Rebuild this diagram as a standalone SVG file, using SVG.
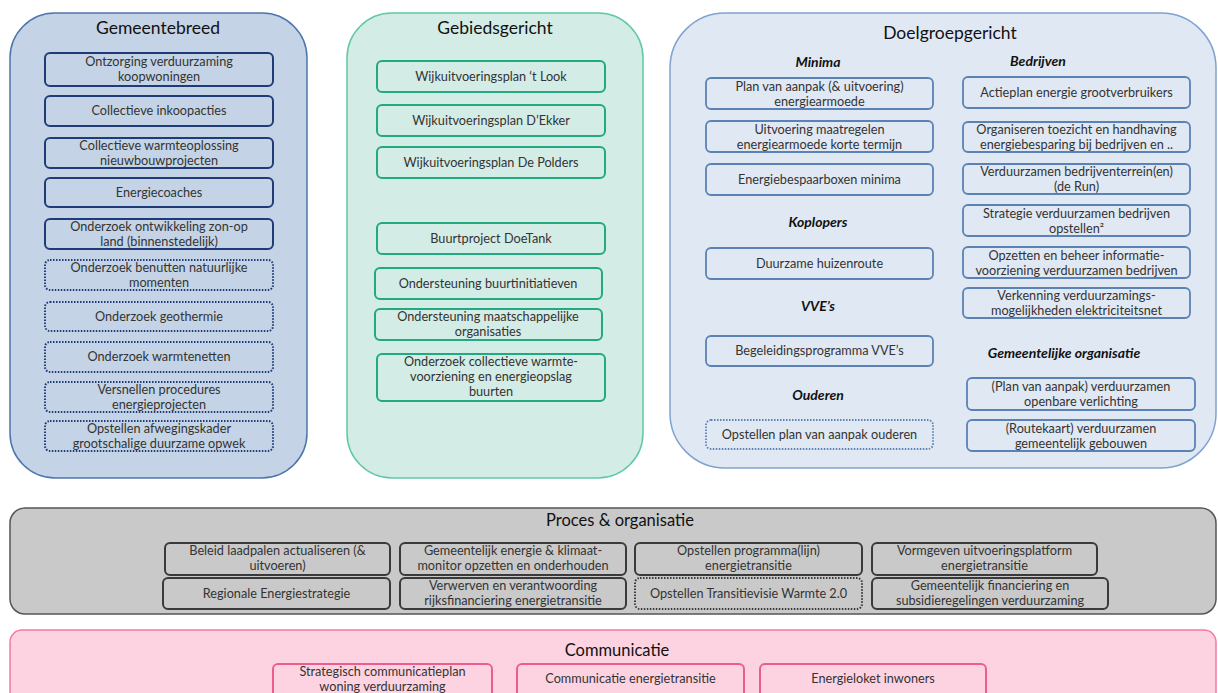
<svg xmlns="http://www.w3.org/2000/svg" width="1218" height="693" viewBox="0 0 1218 693">
<style>
text{font-family:Lato,"Open Sans","Liberation Sans",sans-serif;fill:#333;text-anchor:middle}
.t{font-size:12.7px}
.h{font-size:17.5px;fill:#111}
.s{font-size:14px;font-weight:bold;font-style:italic;fill:#111}
.pg{fill:#c4d3e5;stroke:#4d75ad;stroke-width:1.5}
.pb{fill:#d3ece5;stroke:#60c8a8;stroke-width:1.5}
.pd{fill:#e0e8f3;stroke:#7fa3cf;stroke-width:1.5}
.pp{fill:#c9c9c9;stroke:#555;stroke-width:1.5}
.pc{fill:#fdd3e2;stroke:#f47aa2;stroke-width:1.5}
.bg{fill:none;stroke:#1f3c78;stroke-width:2}
.bgd{fill:none;stroke:#1f3c78;stroke-width:2;stroke-dasharray:1.5 1.5}
.bb{fill:none;stroke:#22a981;stroke-width:2}
.bd{fill:none;stroke:#5a82b4;stroke-width:1.8}
.bdd{fill:none;stroke:#5a82b4;stroke-width:1.8;stroke-dasharray:1.5 1.5}
.bp{fill:none;stroke:#3a3a3a;stroke-width:2}
.bpd{fill:none;stroke:#3a3a3a;stroke-width:2;stroke-dasharray:1.5 1.5}
.bc{fill:none;stroke:#eb5d8e;stroke-width:2}
</style>
<rect width="1218" height="693" fill="#fff"/>

<g id="gemeentebreed">
<rect class="pg" x="10" y="13" width="297" height="465" rx="45"/>
<text class="h" x="158" y="34">Gemeentebreed</text>
<rect class="bg" x="45" y="53" width="228" height="33" rx="5"/>
<text class="t" x="159" y="66">Ontzorging verduurzaming</text><text class="t" x="159" y="81">koopwoningen</text>
<rect class="bg" x="45" y="96" width="228" height="30" rx="5"/>
<text class="t" x="159" y="115">Collectieve inkoopacties</text>
<rect class="bg" x="45" y="138" width="228" height="30" rx="5"/>
<text class="t" x="159" y="150">Collectieve warmteoplossing</text><text class="t" x="159" y="165">nieuwbouwprojecten</text>
<rect class="bg" x="45" y="178" width="228" height="29" rx="5"/>
<text class="t" x="159" y="197">Energiecoaches</text>
<rect class="bg" x="45" y="219" width="228" height="30" rx="5"/>
<text class="t" x="159" y="231">Onderzoek ontwikkeling zon-op</text><text class="t" x="159" y="246">land (binnenstedelijk)</text>
<rect class="bgd" x="45" y="260" width="228" height="30" rx="5"/>
<text class="t" x="159" y="272">Onderzoek benutten natuurlijke</text><text class="t" x="159" y="287">momenten</text>
<rect class="bgd" x="45" y="302" width="228" height="29" rx="5"/>
<text class="t" x="159" y="321">Onderzoek geothermie</text>
<rect class="bgd" x="45" y="342" width="228" height="30" rx="5"/>
<text class="t" x="159" y="361">Onderzoek warmtenetten</text>
<rect class="bgd" x="45" y="382" width="228" height="30" rx="5"/>
<text class="t" x="159" y="394">Versnellen procedures</text><text class="t" x="159" y="409">energieprojecten</text>
<rect class="bgd" x="45" y="421" width="228" height="30" rx="5"/>
<text class="t" x="159" y="433">Opstellen afwegingskader</text><text class="t" x="159" y="448">grootschalige duurzame opwek</text>
</g>

<g id="gebiedsgericht">
<rect class="pb" x="347" y="13" width="296" height="465" rx="45"/>
<text class="h" x="495" y="34">Gebiedsgericht</text>
<rect class="bb" x="377" y="61" width="228" height="31" rx="5"/>
<text class="t" x="491" y="81">Wijkuitvoeringsplan ‘t Look</text>
<rect class="bb" x="377" y="105" width="228" height="31" rx="5"/>
<text class="t" x="491" y="125">Wijkuitvoeringsplan D’Ekker</text>
<rect class="bb" x="377" y="147" width="228" height="31" rx="5"/>
<text class="t" x="491" y="167">Wijkuitvoeringsplan De Polders</text>
<rect class="bb" x="377" y="223" width="228" height="31" rx="5"/>
<text class="t" x="491" y="243">Buurtproject DoeTank</text>
<rect class="bb" x="375" y="268" width="227" height="31" rx="5"/>
<text class="t" x="488" y="288">Ondersteuning buurtinitiatieven</text>
<rect class="bb" x="375" y="309" width="227" height="31" rx="5"/>
<text class="t" x="488" y="321">Ondersteuning maatschappelijke</text><text class="t" x="488" y="336">organisaties</text>
<rect class="bb" x="377" y="354" width="228" height="47" rx="5"/>
<text class="t" x="491" y="366">Onderzoek collectieve warmte-</text><text class="t" x="491" y="381">voorziening en energieopslag</text><text class="t" x="491" y="396">buurten</text>
</g>

<g id="doelgroepgericht">
<rect class="pd" x="670" y="13" width="546" height="455" rx="55"/>
<text class="h" x="950" y="39">Doelgroepgericht</text>
<text class="s" x="818" y="67">Minima</text>
<text class="s" x="818" y="227">Koplopers</text>
<text class="s" x="818" y="311">VVE’s</text>
<text class="s" x="818" y="400">Ouderen</text>
<text class="s" x="1038" y="66">Bedrijven</text>
<text class="s" x="1064" y="358">Gemeentelijke organisatie</text>
<rect class="bd" x="706" y="78" width="227" height="31" rx="5"/>
<text class="t" x="819.5" y="90.5">Plan van aanpak (&amp; uitvoering)</text><text class="t" x="819.5" y="105.5">energiearmoede</text>
<rect class="bd" x="706" y="121" width="227" height="31" rx="5"/>
<text class="t" x="819.5" y="133.5">Uitvoering maatregelen</text><text class="t" x="819.5" y="148.5">energiearmoede korte termijn</text>
<rect class="bd" x="706" y="164" width="227" height="31" rx="5"/>
<text class="t" x="819.5" y="184">Energiebespaarboxen minima</text>
<rect class="bd" x="706" y="248" width="227" height="31" rx="5"/>
<text class="t" x="819.5" y="268">Duurzame huizenroute</text>
<rect class="bd" x="706" y="336" width="227" height="30" rx="5"/>
<text class="t" x="819.5" y="355">Begeleidingsprogramma VVE’s</text>
<rect class="bdd" x="706" y="420" width="227" height="29" rx="5"/>
<text class="t" x="819.5" y="439">Opstellen plan van aanpak ouderen</text>
<rect class="bd" x="963" y="77" width="227" height="31" rx="5"/>
<text class="t" x="1076.5" y="97">Actieplan energie grootverbruikers</text>
<rect class="bd" x="963" y="122" width="227" height="30" rx="5"/>
<text class="t" x="1076.5" y="134">Organiseren toezicht en handhaving</text><text class="t" x="1076.5" y="149">energiebesparing bij bedrijven en ..</text>
<rect class="bd" x="963" y="164" width="227" height="30" rx="5"/>
<text class="t" x="1076.5" y="176">Verduurzamen bedrijventerrein(en)</text><text class="t" x="1076.5" y="191">(de Run)</text>
<rect class="bd" x="963" y="205" width="227" height="31" rx="5"/>
<text class="t" x="1076.5" y="217.5">Strategie verduurzamen bedrijven</text><text class="t" x="1076.5" y="232.5">opstellen²</text>
<rect class="bd" x="963" y="247" width="227" height="31" rx="5"/>
<text class="t" x="1076.5" y="259.5">Opzetten en beheer informatie-</text><text class="t" x="1076.5" y="274.5">voorziening verduurzamen bedrijven</text>
<rect class="bd" x="963" y="288" width="227" height="30" rx="5"/>
<text class="t" x="1076.5" y="300">Verkenning verduurzamings-</text><text class="t" x="1076.5" y="315">mogelijkheden elektriciteitsnet</text>
<rect class="bd" x="967" y="378" width="228" height="32" rx="5"/>
<text class="t" x="1081" y="391">(Plan van aanpak) verduurzamen</text><text class="t" x="1081" y="406">openbare verlichting</text>
<rect class="bd" x="967" y="420" width="228" height="31" rx="5"/>
<text class="t" x="1081" y="432.5">(Routekaart) verduurzamen</text><text class="t" x="1081" y="447.5">gemeentelijk gebouwen</text>
</g>

<g id="proces">
<rect class="pp" x="10" y="508" width="1206" height="106" rx="15"/>
<text class="h" x="620" y="526" style="font-size:16.5px">Proces &amp; organisatie</text>
<rect class="bp" x="165" y="543" width="225" height="32" rx="5"/>
<text class="t" x="277.5" y="555">Beleid laadpalen actualiseren (&amp;</text><text class="t" x="277.5" y="570">uitvoeren)</text>
<rect class="bp" x="400" y="543" width="226" height="32" rx="5"/>
<text class="t" x="513" y="555">Gemeentelijk energie &amp; klimaat-</text><text class="t" x="513" y="570">monitor opzetten en onderhouden</text>
<rect class="bp" x="635" y="543" width="227" height="32" rx="5"/>
<text class="t" x="748.5" y="555">Opstellen programma(lijn)</text><text class="t" x="748.5" y="570">energietransitie</text>
<rect class="bp" x="872" y="543" width="225" height="32" rx="5"/>
<text class="t" x="984.5" y="555">Vormgeven uitvoeringsplatform</text><text class="t" x="984.5" y="570">energietransitie</text>
<rect class="bp" x="163" y="578" width="227" height="31" rx="5"/>
<text class="t" x="276.5" y="598">Regionale Energiestrategie</text>
<rect class="bp" x="400" y="578" width="226" height="31" rx="5"/>
<text class="t" x="513" y="590">Verwerven en verantwoording</text><text class="t" x="513" y="605">rijksfinanciering energietransitie</text>
<rect class="bpd" x="635" y="578" width="227" height="31" rx="5"/>
<text class="t" x="748.5" y="598">Opstellen Transitievisie Warmte 2.0</text>
<rect class="bp" x="872" y="578" width="236" height="31" rx="5"/>
<text class="t" x="990" y="590">Gemeentelijk financiering en</text><text class="t" x="990" y="605">subsidieregelingen verduurzaming</text>
</g>

<g id="communicatie">
<rect class="pc" x="10" y="630" width="1206" height="80" rx="12"/>
<text class="h" x="617" y="656" style="font-size:16.5px">Communicatie</text>
<rect class="bc" x="273" y="664" width="219" height="40" rx="5"/>
<text class="t" x="382.5" y="676">Strategisch communicatieplan</text><text class="t" x="382.5" y="691">woning verduurzaming</text>
<rect class="bc" x="517" y="664" width="227" height="40" rx="5"/>
<text class="t" x="630.5" y="683">Communicatie energietransitie</text>
<rect class="bc" x="760" y="664" width="226" height="40" rx="5"/>
<text class="t" x="873" y="683">Energieloket inwoners</text>
</g>

<g id="connectors"></g>
</svg>
